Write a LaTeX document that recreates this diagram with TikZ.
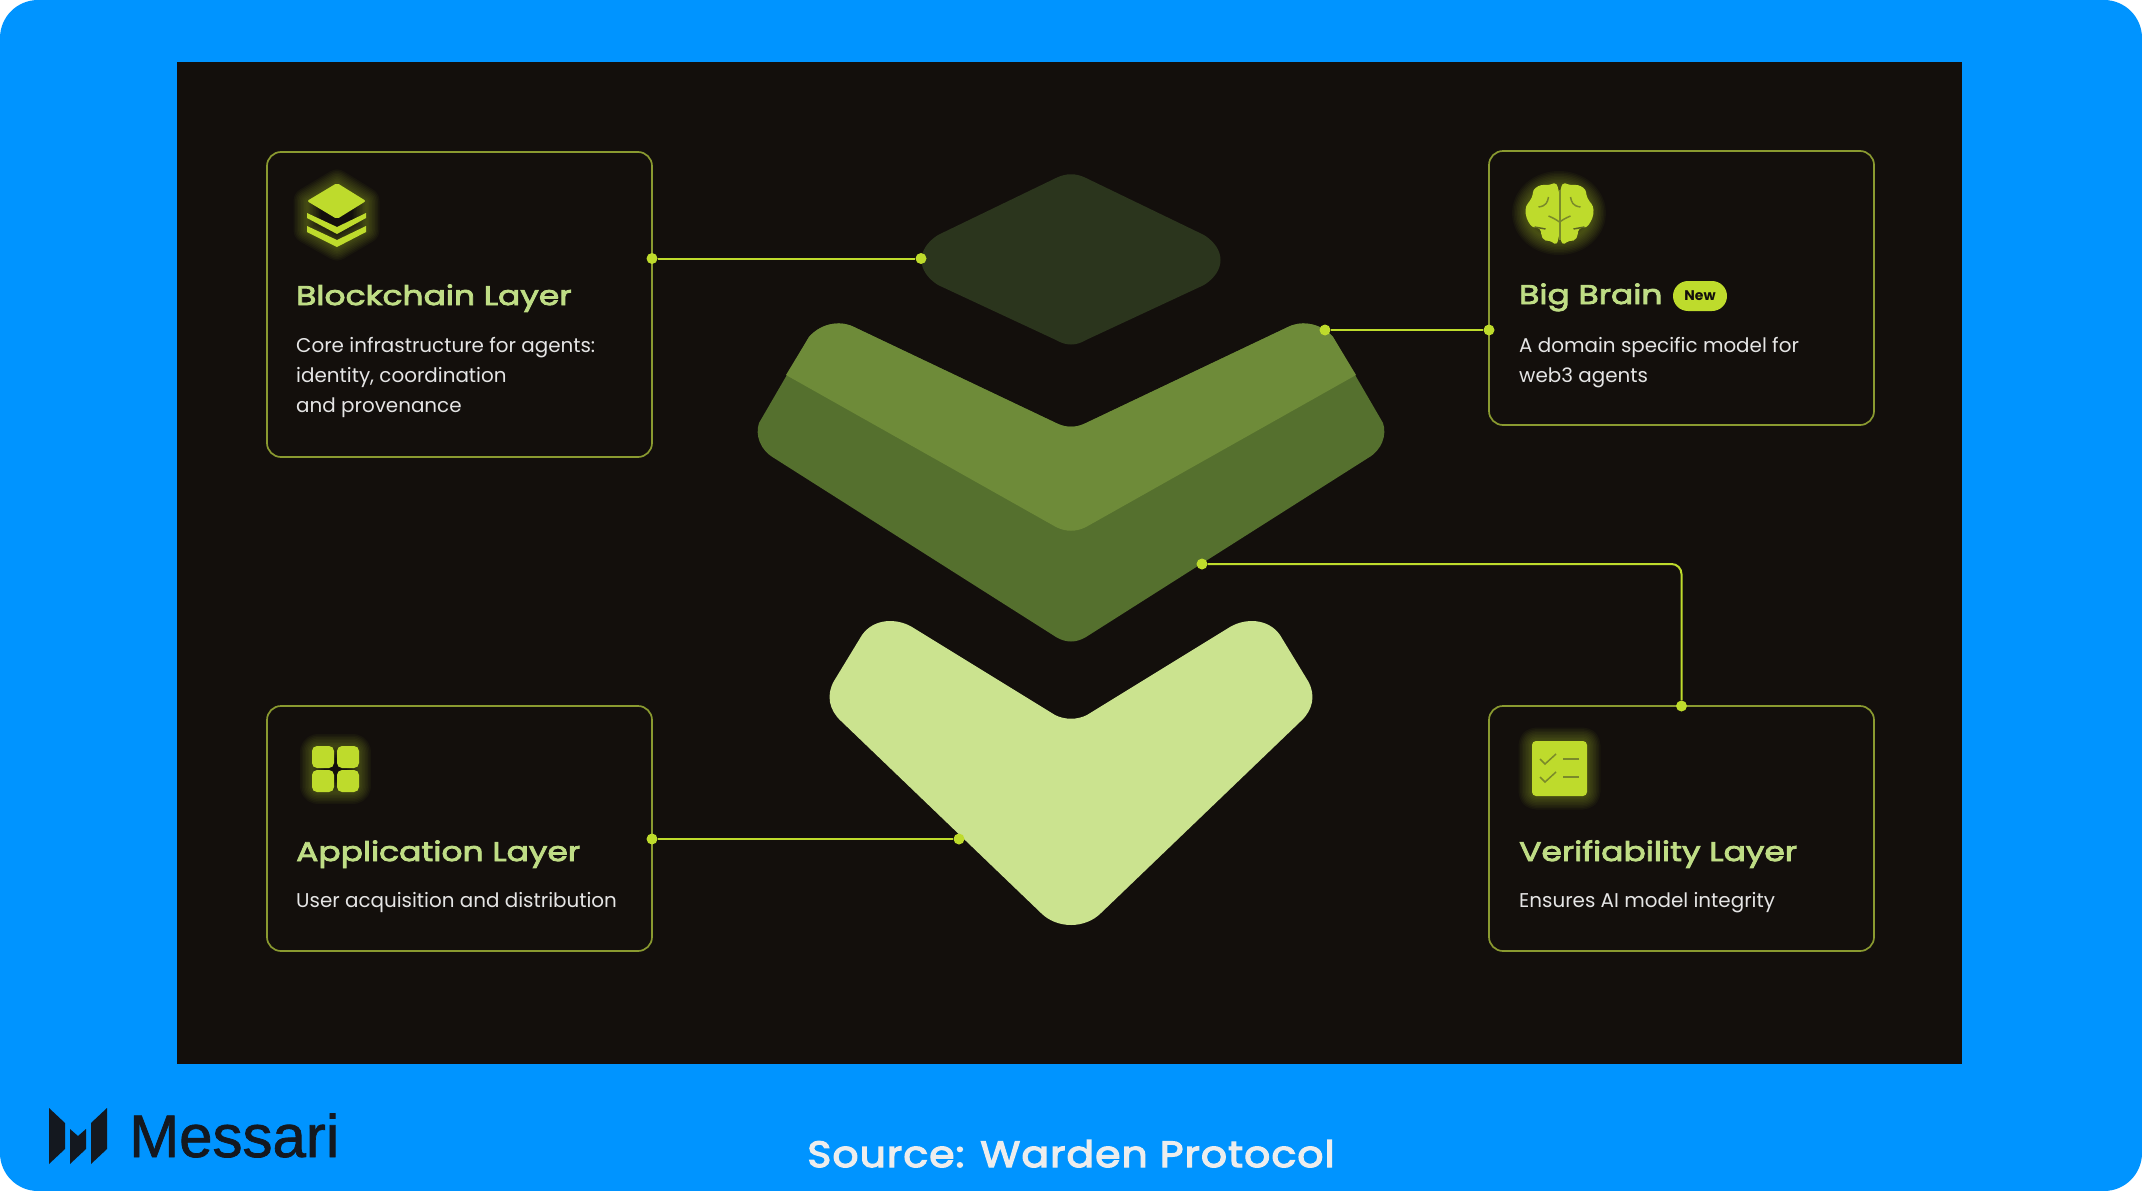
\documentclass[tikz,border=0pt]{standalone}
\usepackage{fontspec}
\usepackage{tikz}
\usetikzlibrary{calc}
\setmainfont{Poppins}
\newfontfamily\titlefont[FakeStretch=1.22,FakeBold=3.2]{Poppins}
\newfontfamily\logofont[FakeBold=1.2]{Liberation Sans}
\newfontfamily\sourcefont[LetterSpace=3,FakeStretch=1.12,FakeBold=3.5]{Poppins}
\definecolor{frameblue}{HTML}{0094FF}
\definecolor{panelblack}{HTML}{130F0C}
\definecolor{lime}{HTML}{BEDB2C}
\definecolor{cardline}{HTML}{8A9A30}
\definecolor{titlegreen}{HTML}{BFDD85}
\definecolor{diamondgreen}{HTML}{2B351D}
\definecolor{midgreen}{HTML}{6E8B39}
\definecolor{lowgreen}{HTML}{55702E}
\definecolor{palegreen}{HTML}{CBE38F}
\definecolor{tickolive}{HTML}{7A8A2A}
\definecolor{logoink}{HTML}{14181F}
\tikzset{
    cardbox/.style={draw=cardline, line width=1.7pt, rounded corners=14pt, minimum width=385pt, inner sep=0pt},
    dotmark/.style={circle, fill=lime, minimum size=11pt, inner sep=0pt},
    wire/.style={draw=lime, line width=2pt},
    cardtitle/.style={anchor=base west, inner sep=0pt, text=titlegreen, font=\titlefont\fontsize{27}{30}\selectfont},
    cardtext/.style={anchor=north west, inner sep=0pt, text=white!90!black, align=left, font=\fontsize{19.9}{30}\selectfont},
    glow/.style={lime, opacity=0.04, line join=round},
}

\begin{document}
\begin{tikzpicture}[x=1pt, y=-1pt]
    \useasboundingbox (0, 0) rectangle (2142, 1191);
    \fill[white] (0, 0) rectangle (2142, 1191);
    \fill[frameblue, rounded corners=38pt] (0, 0) rectangle (2142, 1191);
    \fill[panelblack] (177, 62) rectangle (1962, 1064);

    % Stacked shapes
    \fill[diamondgreen] (938, 235) -- (1056, 178) .. controls (1066, 173) and (1076, 173) .. (1086, 178)
        -- (1204, 235) .. controls (1226, 249) and (1226, 271) .. (1204, 285)
        -- (1086, 340) .. controls (1076, 346) and (1066, 346) .. (1056, 340)
        -- (938, 285) .. controls (916, 271) and (916, 249) .. (938, 235) -- cycle;
    \fill[lowgreen] (1056, 423) .. controls (1066, 428) and (1076, 428) .. (1086, 423)
        -- (1288, 327) .. controls (1297, 322) and (1318, 320) .. (1333, 337)
        -- (1383, 423) .. controls (1387, 435) and (1382, 450) .. (1368, 458)
        -- (1086, 637) .. controls (1076, 643) and (1066, 643) .. (1056, 637)
        -- (774, 458) .. controls (760, 450) and (755, 435) .. (759, 423)
        -- (809, 337) .. controls (824, 320) and (845, 322) .. (854, 327) -- cycle;
    \fill[midgreen] (1056, 423) .. controls (1066, 428) and (1076, 428) .. (1086, 423)
        -- (1288, 327) .. controls (1297, 322) and (1318, 320) .. (1333, 337)
        -- (1356, 375) -- (1086, 527) .. controls (1076, 532) and (1066, 532) .. (1056, 527)
        -- (786, 375) -- (809, 337) .. controls (824, 320) and (845, 322) .. (854, 327) -- cycle;
    \fill[palegreen] (1055, 715) .. controls (1065, 720) and (1077, 720) .. (1087, 715)
        -- (1230, 627) .. controls (1245, 618) and (1268, 618) .. (1280, 635)
        -- (1308, 681) .. controls (1316, 695) and (1313, 710) .. (1301, 721)
        -- (1101, 913) .. controls (1085, 929) and (1057, 929) .. (1041, 913)
        -- (841, 721) .. controls (829, 710) and (826, 695) .. (834, 681)
        -- (862, 635) .. controls (874, 618) and (897, 618) .. (912, 627) -- cycle;

    % Cards
    \node[cardbox, minimum height=305pt] (blockchain) at (459.5, 304.5) {};
    \node[cardbox, minimum height=274pt] (bigbrain) at (1681.5, 288) {};
    \node[cardbox, minimum height=245pt] (application) at (459.5, 828.5) {};
    \node[cardbox, minimum height=245pt] (verifiability) at (1681.5, 828.5) {};

    % Card texts
    \node[cardtitle] (blockchaintitle) at (296, 305) {Blockchain Layer};
    \node[cardtext] (blockchaintext) at (296, 337) {Core infrastructure for agents:\\identity, coordination\\and provenance};
    \node[cardtitle] (bigbraintitle) at (1519, 304) {Big Brain};
    \node[fill=lime, rounded corners=15pt, minimum width=54pt, minimum height=30pt, inner sep=0pt, text=panelblack,
        font=\bfseries\fontsize{14}{16}\selectfont] (newtag) at (1700, 296) {New};
    \node[cardtext] (bigbraintext) at (1519, 337) {A domain specific model for\\web3 agents};
    \node[cardtitle] (applicationtitle) at (296, 861) {Application Layer};
    \node[cardtext] (applicationtext) at (296, 892) {User acquisition and distribution};
    \node[cardtitle] (verifiabilitytitle) at (1519, 861) {Verifiability Layer};
    \node[cardtext] (verifiabilitytext) at (1519, 892) {Ensures AI model integrity};

    % Connectors
    \node[dotmark] (blockchainport) at (652, 258.5) {};
    \node[dotmark] (diamondport) at (921, 258.5) {};
    \node[dotmark] (bigbrainport) at (1489, 330) {};
    \node[dotmark] (midport) at (1325, 330) {};
    \node[dotmark] (verifyport) at (1681.5, 706) {};
    \node[dotmark] (lowport) at (1202, 564) {};
    \node[dotmark] (applicationport) at (652, 839) {};
    \node[dotmark] (paleport) at (959, 839) {};
    \draw[wire] (blockchainport) -- (diamondport);
    \draw[wire] (midport) -- (bigbrainport);
    \draw[wire, rounded corners=10pt] (lowport) -| (verifyport);
    \draw[wire] (applicationport) -- (paleport);

    % Stack icon
    \foreach \w in {3, 6, ..., 27}
        \draw[glow, line width=\w pt] (337, 183) -- (366, 201) -- (366, 230) -- (337, 247) -- (307, 230) -- (307, 201) -- cycle;
    \fill[lime, rounded corners=2pt] (337, 183) -- (366, 201) -- (337, 219) -- (307, 201) -- cycle;
    \fill[lime] (307, 213) -- (337, 227) -- (366, 213) -- (366, 218) -- (337, 234) -- (307, 218) -- cycle;
    \fill[lime] (307, 226) -- (337, 240) -- (366, 226) -- (366, 232) -- (337, 247) -- (307, 232) -- cycle;

    % Brain icon
    \foreach \w in {3, 6, ..., 30}
        \draw[glow, line width=\w pt] (1559, 213) ellipse (32 and 27);
    \foreach \s in {1, -1} {
        \begin{scope}[shift={(1559.5, 0)}, xscale=\s]
            \fill[lime] plot[smooth cycle, tension=0.8] coordinates {(-1, 190) (-12, 185) (-24, 188) (-28, 198) (-34, 210)
                (-29, 225) (-20, 229) (-17, 238) (-10, 241) (-1, 238)};
            \draw[tickolive, line width=1.5pt] (-21, 207) .. controls (-13, 206) and (-12, 202) .. (-11, 197);
            \draw[tickolive, line width=1.5pt] (-11, 216) .. controls (-6, 218) and (-3, 220) .. (0, 222);
            \draw[panelblack!30!tickolive, line width=1.5pt] (-25, 227) -- (-14, 229);
            \draw[tickolive, line width=2pt] (0, 190) -- (0, 240);
        \end{scope}
    }

    % Grid icon
    \foreach \w in {3, 6, ..., 24}
        \draw[glow, line width=\w pt, rounded corners=6pt] (312, 746) rectangle (359, 792);
    \foreach \x in {312, 337} {
        \foreach \y in {746, 770} {
            \fill[lime, rounded corners=5pt] (\x, \y) rectangle ++(22, 22);
        }
    }

    % Checklist icon
    \foreach \w in {3, 6, ..., 27}
        \draw[glow, line width=\w pt, rounded corners=4pt] (1532, 741) rectangle (1587, 796);
    \fill[lime, rounded corners=4pt] (1532, 741) rectangle (1587, 796);
    \foreach \y in {759, 777} {
        \draw[tickolive, line width=1.5pt] (1540, \y) -- (1545, \y + 5) -- (1556, \y - 5);
        \draw[tickolive, line width=1.5pt] (1563, \y) -- (1579, \y);
    }

    % Footer
    \fill[logoink] (49, 1108) -- (65, 1123) -- (65, 1149) -- (49, 1164) -- cycle;
    \fill[logoink] (70, 1129) -- (78, 1136) -- (86, 1129) -- (86, 1149) -- (70, 1164) -- cycle;
    \fill[logoink] (107, 1108) -- (107, 1149) -- (91, 1164) -- (91, 1123) -- cycle;
    \node[anchor=base west, inner sep=0pt, text=logoink, font=\logofont\fontsize{60}{60}\selectfont] (messari) at (129, 1157) {Messari};
    \node[anchor=base, inner sep=0pt, text=white!93!black, font=\sourcefont\fontsize{36.5}{40}\selectfont] (source) at (1071, 1167) {Source: Warden Protocol};
\end{tikzpicture}
\end{document}
